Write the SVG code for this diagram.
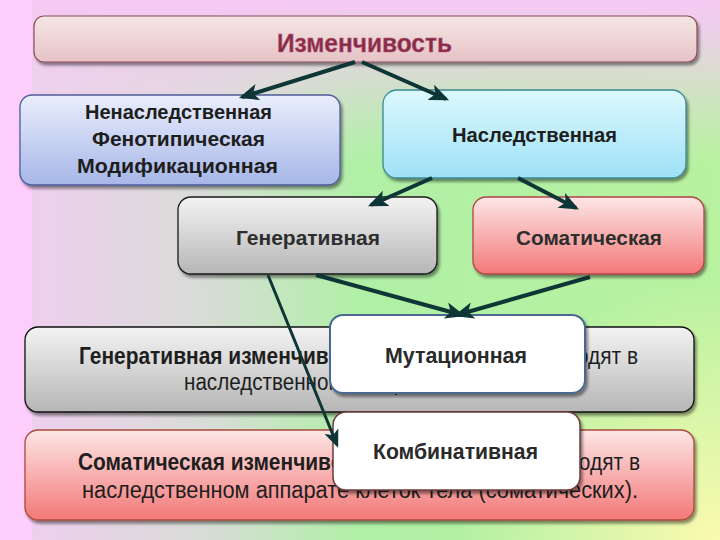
<svg xmlns="http://www.w3.org/2000/svg" width="720" height="540" viewBox="0 0 720 540">
<defs>
<linearGradient id="bgH" x1="0" y1="0" x2="1" y2="0">
<stop offset="0" stop-color="#f2cdf2"/>
<stop offset="0.28" stop-color="#d9dcd8"/>
<stop offset="0.5" stop-color="#b0f0a6"/>
<stop offset="1" stop-color="#b8f2a0"/>
</linearGradient>
<linearGradient id="bgV" x1="0" y1="0" x2="0" y2="1">
<stop offset="0" stop-color="#f6c9f4" stop-opacity="1"/>
<stop offset="0.06" stop-color="#f2ccf0" stop-opacity="0.9"/>
<stop offset="0.3" stop-color="#e8d8e4" stop-opacity="0"/>
</linearGradient>
<radialGradient id="bgY" cx="720" cy="540" r="260" gradientUnits="userSpaceOnUse">
<stop offset="0" stop-color="#fafab0" stop-opacity="1"/>
<stop offset="1" stop-color="#fafab0" stop-opacity="0"/>
</radialGradient>
<linearGradient id="gTop" x1="0" y1="0" x2="0" y2="1">
<stop offset="0" stop-color="#f4e6e4"/>
<stop offset="1" stop-color="#e6c2c6"/>
</linearGradient>
<linearGradient id="gBlue" x1="0" y1="0" x2="0" y2="1">
<stop offset="0" stop-color="#eaeefc"/>
<stop offset="1" stop-color="#a6b6e8"/>
</linearGradient>
<linearGradient id="gCyan" x1="0" y1="0" x2="0" y2="1">
<stop offset="0" stop-color="#dcf8fd"/>
<stop offset="1" stop-color="#9fe1f7"/>
</linearGradient>
<linearGradient id="gGray" x1="0" y1="0" x2="0" y2="1">
<stop offset="0" stop-color="#f3f3f3"/>
<stop offset="1" stop-color="#b6b6b6"/>
</linearGradient>
<linearGradient id="gRed" x1="0" y1="0" x2="0" y2="1">
<stop offset="0" stop-color="#fde6e6"/>
<stop offset="1" stop-color="#f37878"/>
</linearGradient>
<filter id="sh" x="-5%" y="-10%" width="115%" height="130%">
<feGaussianBlur in="SourceAlpha" stdDeviation="1.5"/>
<feOffset dx="2" dy="2.5" result="b"/>
<feComponentTransfer><feFuncA type="linear" slope="0.45"/></feComponentTransfer>
<feMerge><feMergeNode/><feMergeNode in="SourceGraphic"/></feMerge>
</filter>
<marker id="ah" viewBox="0 0 12 10" refX="10" refY="5" markerWidth="5" markerHeight="4.2" orient="auto" markerUnits="strokeWidth">
<path d="M0,0 L12,5 L0,10 L3,5 z" fill="#0f3636"/>
</marker>
<marker id="ah2" viewBox="0 0 12 10" refX="10" refY="5" markerWidth="6" markerHeight="5" orient="auto" markerUnits="strokeWidth">
<path d="M0,0 L12,5 L0,10 L3,5 z" fill="#0f3636"/>
</marker>
</defs>
<style>
.t{font-family:"Liberation Sans",Arial,sans-serif;}
.b{font-weight:bold;}
.c{fill:#1e1e1e;}
.n{font-size:21px;}
.d{font-size:23px;}
.arr{stroke:#0f3636;stroke-width:4;fill:none;marker-end:url(#ah);}
</style>
<rect width="720" height="540" fill="url(#bgH)"/>
<rect width="720" height="540" fill="url(#bgV)"/>
<rect width="720" height="540" fill="url(#bgY)"/>
<rect x="0" y="0" width="32" height="540" fill="#fdcdfb"/>

<g id="izm">
<rect x="34" y="16" width="663" height="46" rx="10" fill="url(#gTop)" stroke="#8a4a5a" stroke-width="1.2" filter="url(#sh)"/>
<text x="277" y="52" class="t b" font-size="25" textLength="175" lengthAdjust="spacingAndGlyphs" fill="#8a2a48" stroke="#b06078" stroke-width="0.5">Изменчивость</text>
</g>
<g id="nenasl">
<rect x="20" y="95" width="320" height="90" rx="12" fill="url(#gBlue)" stroke="#4d5c98" stroke-width="1.3" filter="url(#sh)"/>
<text class="t b c n" x="85" y="119" textLength="187" lengthAdjust="spacingAndGlyphs">Ненаследственная</text>
<text class="t b c n" x="92" y="146" textLength="173" lengthAdjust="spacingAndGlyphs">Фенотипическая</text>
<text class="t b c n" x="77" y="173" textLength="201" lengthAdjust="spacingAndGlyphs">Модификационная</text>
</g>
<g id="nasl">
<rect x="383" y="90" width="303" height="88" rx="14" fill="url(#gCyan)" stroke="#3a8896" stroke-width="1.3" filter="url(#sh)"/>
<text class="t b c n" x="452" y="142" textLength="165" lengthAdjust="spacingAndGlyphs">Наследственная</text>
</g>
<g id="gen">
<rect x="178" y="197" width="259" height="77" rx="13" fill="url(#gGray)" stroke="#1a1a1a" stroke-width="1.3" filter="url(#sh)"/>
<text class="t b n" x="236" y="245" textLength="144" lengthAdjust="spacingAndGlyphs" fill="#2e2e2e">Генеративная</text>
</g>
<g id="som">
<rect x="473" y="197" width="231" height="77" rx="13" fill="url(#gRed)" stroke="#b04646" stroke-width="1.3" filter="url(#sh)"/>
<text class="t b n" x="516" y="245" textLength="146" lengthAdjust="spacingAndGlyphs" fill="#2e2e2e">Соматическая</text>
</g>
<g id="genDesc">
<rect x="25" y="327" width="669" height="85" rx="13" fill="url(#gGray)" stroke="#111" stroke-width="1.3" filter="url(#sh)"/>
<text class="t c d" x="79" y="364" textLength="559" lengthAdjust="spacingAndGlyphs"><tspan class="b">Генеративная изменчивость</tspan> – изменения происходят в</text>
<text class="t c d" x="184" y="390" textLength="315" lengthAdjust="spacingAndGlyphs">наследственном аппарате гамет.</text>
</g>
<g id="somDesc">
<rect x="25" y="430" width="669" height="90" rx="13" fill="url(#gRed)" stroke="#a84a3a" stroke-width="1.3" filter="url(#sh)"/>
<text class="t c d" x="78" y="470" textLength="562" lengthAdjust="spacingAndGlyphs"><tspan class="b">Соматическая изменчивость</tspan> – изменения происходят в</text>
<text class="t c d" x="82" y="498" textLength="556" lengthAdjust="spacingAndGlyphs">наследственном аппарате клеток тела (соматических).</text>
</g>
<g id="mut">
<rect x="330" y="315" width="255" height="78" rx="13" fill="#fff" stroke="#4a6890" stroke-width="2" filter="url(#sh)"/>
<text class="t b" font-size="22" x="385" y="363" textLength="142" lengthAdjust="spacingAndGlyphs" fill="#2a2a2a">Мутационная</text>
</g>
<g id="komb">
<rect x="333" y="412" width="247" height="78" rx="13" fill="#fff" stroke="#6e3a3a" stroke-width="1.5" filter="url(#sh)"/>
<text class="t b" font-size="22" x="373" y="459" textLength="165" lengthAdjust="spacingAndGlyphs" fill="#2a2a2a">Комбинативная</text>
</g>
<g id="connectors">
<path class="arr" d="M355,62 L242,97"/>
<path class="arr" d="M362,62 L446,99"/>
<path class="arr" d="M432,178 L371,205"/>
<path class="arr" d="M518,178 L576,208"/>
<path class="arr" d="M316,275 L462,315"/>
<path class="arr" d="M590,277 L457,315"/>
<path d="M268,275 L337,445" stroke="#0f3636" stroke-width="3" fill="none" marker-end="url(#ah2)"/>
</g>
</svg>
